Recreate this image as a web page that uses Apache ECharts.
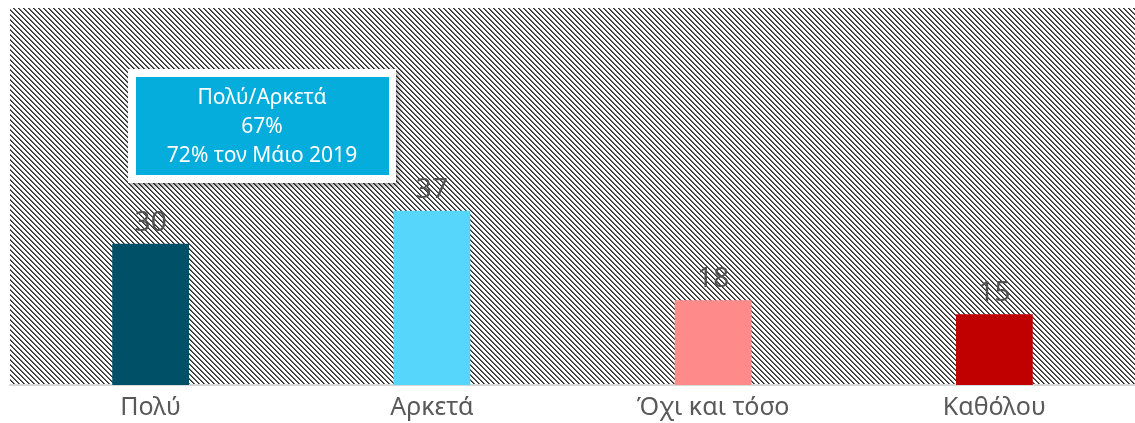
<!DOCTYPE html>
<html>
<head>
<meta charset="utf-8">
<script src="https://cdn.jsdelivr.net/npm/echarts@6/dist/echarts.min.js"></script>
<style>
  html, body { margin: 0; padding: 0; background: #fff; }
  #chart { width: 1135px; height: 423px; }
</style>
</head>
<body>
<div id="chart"></div>
<script>
var categories = ['Πολύ', 'Αρκετά', 'Όχι και τόσο', 'Καθόλου'];
var values = [30, 37, 18, 15];
var barColors = ['#005068', '#55D6FA', '#FF8A8A', '#C00000'];
var noteLines = ['Πολύ/Αρκετά', '67%', '72% τον Μάιο 2019'];

// hatch pattern for the plot background
var P = 5;
var hatch = document.createElement('canvas');
hatch.width = P * 2;
hatch.height = P * 2;
var hctx = hatch.getContext('2d');
hctx.fillStyle = '#ffffff';
hctx.fillRect(0, 0, P * 2, P * 2);
for (var y = 0; y < P * 2; y++) {
  for (var x = 0; x < P * 2; x++) {
    var d = ((x - y) % P + P) % P;
    if (d === 0) { hctx.fillStyle = '#2e2e2e'; hctx.fillRect(x, y, 1, 1); }
    if (d === 1) { hctx.fillStyle = '#6a6a6a'; hctx.fillRect(x, y, 1, 1); }
  }
}

var myChart = echarts.init(document.getElementById('chart'));
var font = 'Noto Sans';

var option = {
  animation: false,
  backgroundColor: '#ffffff',
  grid: {
    show: true,
    left: 10,
    right: 0,
    top: 8,
    bottom: 38,
    borderWidth: 0,
    backgroundColor: { image: hatch, repeat: 'repeat' }
  },
  xAxis: {
    type: 'category',
    data: categories,
    axisTick: { show: false },
    axisLine: { lineStyle: { color: '#d9d9d9', width: 2 } },
    axisLabel: { color: '#595959', fontSize: 25, fontFamily: font, margin: 10 }
  },
  yAxis: {
    type: 'value',
    min: 0,
    max: 80,
    show: false,
    splitLine: { show: false }
  },
  series: [{
    type: 'bar',
    barWidth: '27.3%',
    data: values.map(function (v, i) {
      return { value: v, itemStyle: { color: barColors[i] } };
    }),
    label: {
      show: true,
      position: 'top',
      distance: 7,
      color: '#505050',
      fontSize: 28,
      fontFamily: font
    }
  }],
  graphic: [{
    type: 'group',
    left: 128,
    top: 69,
    children: [{
      type: 'rect',
      shape: { x: 0, y: 0, width: 268, height: 114 },
      style: { fill: '#ffffff', shadowBlur: 6, shadowOffsetX: 2, shadowOffsetY: 2, shadowColor: 'rgba(0,0,0,0.45)' }
    }, {
      type: 'rect',
      shape: { x: 8, y: 8, width: 253, height: 98 },
      style: { fill: '#05ADDC' }
    }, {
      type: 'text',
      x: 134,
      y: 58,
      style: {
        text: noteLines.join('\n'),
        fill: '#ffffff',
        font: '21px "' + font + '"',
        lineHeight: 29,
        align: 'center',
        verticalAlign: 'middle'
      }
    }]
  }]
};

myChart.setOption(option);
</script>
</body>
</html>
